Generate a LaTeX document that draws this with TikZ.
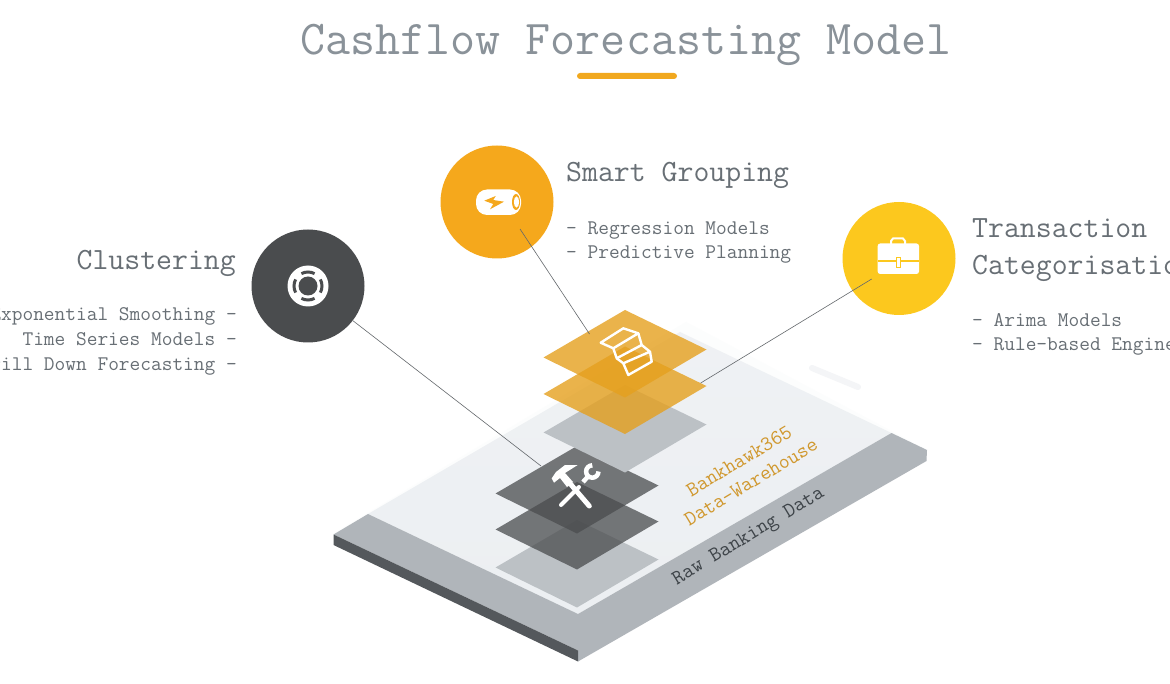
\documentclass[tikz,border=0pt]{standalone}
\usetikzlibrary{positioning}
\definecolor{TitleGrey}{RGB}{138, 146, 153}
\definecolor{TextGrey}{RGB}{104, 111, 117}
\definecolor{AccentBar}{RGB}{241, 168, 30}
\definecolor{SmartOrange}{RGB}{245, 168, 28}
\definecolor{ClusterDark}{RGB}{74, 76, 78}
\definecolor{TransYellow}{RGB}{252, 200, 30}
\definecolor{SheetOrange}{RGB}{229, 160, 30}
\definecolor{SheetShadow}{RGB}{188, 193, 197}
\definecolor{BandGrey}{RGB}{176, 181, 186}
\definecolor{SideDark}{RGB}{84, 88, 92}
\definecolor{PanelLight}{RGB}{236, 239, 242}
\definecolor{FaintBack}{RGB}{252, 253, 253}
\definecolor{PillGrey}{RGB}{244, 245, 247}
\definecolor{WarehouseGold}{RGB}{208, 152, 46}
\definecolor{RawDark}{RGB}{62, 68, 73}
\definecolor{LeaderGrey}{RGB}{100, 104, 108}

% one isometric sheet, given by its top corner
\newcommand{\sheet}[3]{\fill[#3] (#1,#2) -- ++(-81.5,47.5) -- ++(81.5,40) -- ++(81.5,-48) -- cycle;}

\begin{document}
\begin{tikzpicture}[
    x=1pt, y=-1pt,
    % Title and labels
    title/.style={font=\ttfamily\fontsize{48.6}{50}\selectfont, text=TitleGrey, inner sep=0pt},
    head/.style={font=\ttfamily\fontsize{30.9}{37}\selectfont, text=TextGrey, inner sep=0pt, align=left},
    sublist/.style={font=\ttfamily\fontsize{20.8}{24.6}\selectfont, text=TextGrey, inner sep=0pt},
    platelabel/.style={font=\ttfamily\fontsize{21}{25}\selectfont, rotate=31, inner sep=0pt},
    % Circles
    badge/.style={circle, minimum size=113pt, inner sep=0pt},
    % Thin lines
    leader/.style={draw=LeaderGrey, line width=0.6pt},
    % Sheets
    shadowsheet/.style={fill=SheetShadow},
    orangesheet/.style={fill=SheetOrange, fill opacity=0.8},
    darksheet/.style={fill=ClusterDark, fill opacity=0.75},
    iconline/.style={draw=white, line width=2.4pt, line join=round}
]

\useasboundingbox (0,0) rectangle (1170,684);
\clip (0,0) rectangle (1170,684);
\fill[white] (0,0) rectangle (1170,684);

% --- 1. TITLE ---

\node (title) [title] at (626,44.5) {Cashflow Forecasting Model};
\node (titlebar) [fill=AccentBar, minimum width=100pt, minimum height=6pt, inner sep=0pt, rounded corners=3pt] at (627,76) {};

% --- 2. PLATFORM ---

% Faint back of the device
\fill[FaintBack] (333,534) -- (927,450) -- (686,322) -- cycle;
\shade[bottom color=PanelLight, middle color=PanelLight, top color=PanelLight!85!white] (368,514) -- (578,614) -- (891.5,433) -- (680,332) -- cycle;
\draw[PillGrey, line width=6pt, line cap=round] (812,368) -- (858,387);

% Band and side
\fill[BandGrey] (333.5,534.5) -- (578,650.5) -- (578,661.5) -- (926.5,461) -- (927,450) -- (891.5,433) -- (578,614) -- (368,514) -- cycle;
\fill[SideDark] (333.5,534.5) -- (578,650.5) -- (578,661.5) -- (333.5,545) -- cycle;

% --- 3. SHEETS ---

\sheet{577}{520}{shadowsheet}
\sheet{577}{482}{darksheet}
\sheet{577}{446}{darksheet}

\sheet{625}{385}{shadowsheet}
\sheet{625}{346.5}{orangesheet}
\sheet{625}{310}{orangesheet}

% Steps on the orange sheet
\draw[iconline] (600.7,342.7) -- (623.3,328.3) -- (638.3,333.3) -- (613.3,348.3) -- cycle;
\draw[iconline] (613.3,348.3) -- (616.7,358.3) -- (641.7,345) -- (638.3,333.3);
\draw[iconline] (641.7,345) -- (650,351.7) -- (623.3,363.3) -- (616.7,358.3);
\draw[iconline] (623.3,363.3) -- (628.3,375) -- (651.7,361.7) -- (650,351.7);

% Hammer and wrench on the dark sheet
\draw[white, line width=4pt, line cap=round] (561,505) -- (579,487);
\draw[white, line width=4.5pt] (583,482) -- (588,476.5);
\draw[white, line width=4.5pt] (598.5,471.5) arc (0:270:6.2);
\draw[white, line width=5pt, line cap=round] (570,483.5) -- (589.3,506);
\fill[white] (551.7,478.3) -- (554,482.7) -- (560,478) -- (567,487) -- (573,482) -- (565,473) -- (577.7,465) -- (565,465) -- (556,472) -- cycle;

% --- 4. TEXT ON THE PLATFORM ---

\node (bankhawk) [platelabel, text=WarehouseGold] at (739,461) {Bankhawk365};
\node (warehouse) [platelabel, text=WarehouseGold] at (751,482) {Data-Warehouse};
\node (rawdata) [platelabel, text=RawDark] at (749,537) {Raw Banking Data};

% --- 5. CIRCLES AND LABELS ---

\node (smart) [badge, fill=SmartOrange] at (497,202) {};
\node (cluster) [badge, fill=ClusterDark] at (308,286) {};
\node (trans) [badge, fill=TransYellow] at (899,258.5) {};

\node (smarthead) [head, anchor=west] at (566,175) {Smart Grouping};
\node (smartlist) [sublist, anchor=west, align=left] at (566,242.5) {- Regression Models\\- Predictive Planning};
\node (clusterhead) [head, anchor=east] at (236,263) {Clustering};
\node (clusterlist) [sublist, anchor=east, align=right] at (237,341.5) {Exponential Smoothing -\\Time Series Models -\\Drill Down Forecasting -};
\node (transhead) [head, anchor=west] at (972,250) {Transaction\\Categorisation};
\node (translist) [sublist, anchor=west, align=left] at (972,334.5) {- Arima Models\\- Rule-based Engine};

% Battery
\fill[white, rounded corners=11pt] (476,189.5) rectangle (521,215);
\fill[SmartOrange] (516,202) ellipse (4pt and 8pt);
\fill[white] (516.5,202) ellipse (2.6pt and 5.6pt);
\fill[SmartOrange] (484.3,200.7) -- (495.7,196) -- (493.3,200) -- (504,201.7) -- (490,209.3) -- (493.3,204) -- cycle;

% Lifebuoy
\fill[white] (cluster.center) circle (20.5pt);
\fill[ClusterDark] (cluster.center) circle (9.5pt);
\foreach \ang in {0,90,180,270} {
    \draw[ClusterDark, line width=3pt] ([shift={(\ang-28:14pt)}]cluster.center) arc (\ang-28:\ang+28:14pt);
}

% Briefcase
\draw[white, line width=2pt] (891,244) -- (891,241) -- (893,238.5) -- (903,238.5) -- (905,241) -- (905,244);
\fill[white, rounded corners=2.5pt] (877.7,243.5) rectangle (919,274);
\fill[TransYellow] (877.7,260) rectangle (919,262.3);
\fill[white, draw=TransYellow, line width=0.8pt] (896.5,257.5) rectangle (900.5,267);

% --- 6. LEADER LINES ---

\coordinate (smartend) at (589.5,334);
\coordinate (clusterend) at (541,466);
\coordinate (transend) at (700.7,383);

\draw[leader] (520,229) -- (smartend);
\draw[leader] (cluster) -- (clusterend);
\draw[leader] (871.7,279) -- (transend);

\end{tikzpicture}
\end{document}
